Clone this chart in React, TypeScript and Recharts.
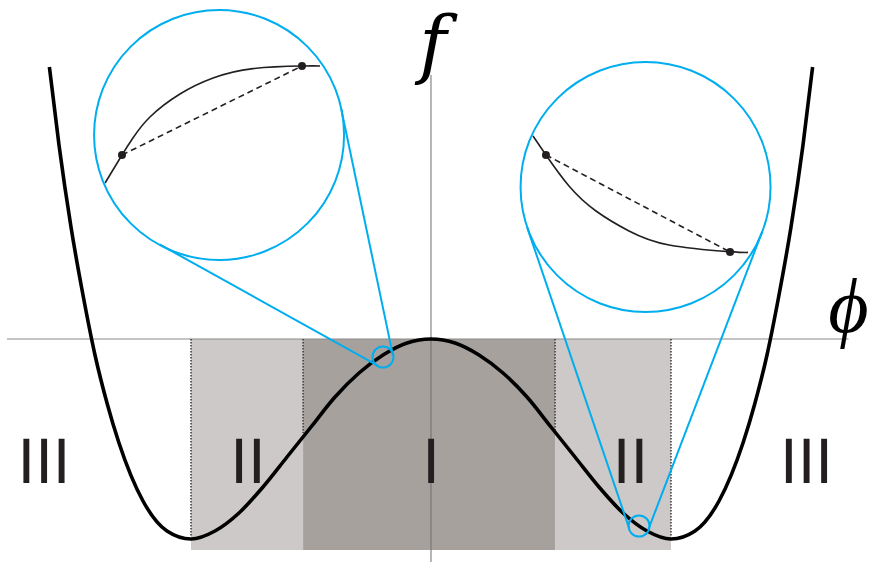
import {
  ComposedChart,
  Line,
  XAxis,
  YAxis,
  ReferenceArea,
  ReferenceLine,
  ReferenceDot,
  Scatter,
} from 'recharts'

// free energy f(phi), double well
const phiValues = [
  -1.59, -1.55, -1.5, -1.45, -1.4, -1.35, -1.3, -1.2, -1.1, -1.0, -0.9, -0.8, -0.7, -0.6, -0.5,
  -0.4, -0.3, -0.2, -0.1, 0, 0.1, 0.2, 0.3, 0.4, 0.5, 0.6, 0.7, 0.8, 0.9, 1.0, 1.1, 1.2, 1.3,
  1.35, 1.4, 1.45, 1.5, 1.55, 1.59,
]
const fValues = [
  1.36, 0.97, 0.56, 0.22, -0.08, -0.32, -0.52, -0.81, -0.96, -1.0, -0.96, -0.87, -0.74, -0.59,
  -0.44, -0.29, -0.17, -0.08, -0.02, 0, -0.02, -0.08, -0.17, -0.29, -0.44, -0.59, -0.74, -0.87,
  -0.96, -1.0, -0.96, -0.81, -0.52, -0.32, -0.08, 0.22, 0.56, 0.97, 1.36,
]

// magnified pieces of the curve shown inside the two big circles
const leftInsetPhi = [-1.358, -1.2875, -1.242, -1.171, -1.046, -0.908, -0.742, -0.5375, -0.4625]
const leftInsetF = [0.78, 0.92, 1.005, 1.11, 1.225, 1.305, 1.352, 1.365, 1.365]
const rightInsetPhi = [0.425, 0.479, 0.575, 0.6875, 0.825, 0.992, 1.242, 1.321]
const rightInsetF = [1.015, 0.92, 0.765, 0.64, 0.54, 0.47, 0.437, 0.433]

// chords between the marked points
const leftChord = [
  { phi: -1.2875, f: 0.92 },
  { phi: -0.5375, f: 1.365 },
]
const rightChord = [
  { phi: 0.479, f: 0.92 },
  { phi: 1.246, f: 0.435 },
]

// regions: binodal at +-1, spinodal at about +-0.53
const binodal = [-1.0, 1.0]
const spinodal = [-0.533, 0.517]
const binodalF = [-0.99, -0.99]
const spinodalF = [-0.47, -0.46]
const regionBottom = -1.055

const regionNames = ['III', 'II', 'I', 'II', 'III']
const regionPhi = [-1.6125, -0.7625, 0, 0.831, 1.5646]
const regionF = -0.72

// zoom circles: small one on the curve, big one showing it magnified
const smallCircles = [
  { phi: -0.2, f: -0.09 },
  { phi: 0.867, f: -0.935 },
]
const bigCircles = [
  { phi: -0.883, f: 1.02 },
  { phi: 0.894, f: 0.76 },
]
const tangentLines = [
  [{ phi: -1.1308, f: 0.473 }, { phi: -0.22, f: -0.134 }],
  [{ phi: -0.3738, f: 1.149 }, { phi: -0.159, f: -0.0795 }],
  [{ phi: 0.4004, f: 0.5595 }, { phi: 0.827, f: -0.951 }],
  [{ phi: 1.38, f: 0.537 }, { phi: 0.9054, f: -0.953 }],
]

const mainCurve = phiValues.map((phi, i) => ({ phi, f: fValues[i] }))
const leftInset = leftInsetPhi.map((phi, i) => ({ phi, f: leftInsetF[i] }))
const rightInset = rightInsetPhi.map((phi, i) => ({ phi, f: rightInsetF[i] }))
const regionLabels = regionNames.map((name, i) => ({ phi: regionPhi[i], f: regionF, name }))

const BLUE = '#00aeef'
const INK = '#231f20'

export default function App() {
  return (
    <div style={{ position: 'absolute', left: 0, top: 0, background: '#fff' }}>
      <ComposedChart width={872} height={562} data={mainCurve} margin={{ top: 0, right: 0, bottom: 0, left: 0 }}>
        <XAxis dataKey="phi" type="number" domain={[-1.7958, 1.8375]} allowDataOverflow hide />
        <YAxis type="number" domain={[-1.115, 1.695]} allowDataOverflow hide />

        <ReferenceArea x1={binodal[0]} x2={spinodal[0]} y1={0} y2={regionBottom} fill="#ccc9c8" fillOpacity={1} stroke="none" />
        <ReferenceArea x1={spinodal[0]} x2={spinodal[1]} y1={0} y2={regionBottom} fill="#a7a19e" fillOpacity={1} stroke="none" />
        <ReferenceArea x1={spinodal[1]} x2={binodal[1]} y1={0} y2={regionBottom} fill="#ccc9c8" fillOpacity={1} stroke="none" />

        <ReferenceLine segment={[{ x: -1.7667, y: 0 }, { x: 1.74, y: 0 }]} stroke="#8a8a8a" strokeWidth={1.2} />
        <ReferenceLine segment={[{ x: 0, y: 1.32 }, { x: 0, y: -1.115 }]} stroke="#6e6e6e" strokeWidth={1} />

        {binodal.map((x, i) => (
          <ReferenceLine key={'b' + i} segment={[{ x, y: 0 }, { x, y: binodalF[i] }]} stroke="#3a3a3a" strokeWidth={1.5} strokeDasharray="1.5 1.5" />
        ))}
        {spinodal.map((x, i) => (
          <ReferenceLine key={'s' + i} segment={[{ x, y: 0 }, { x, y: spinodalF[i] }]} stroke="#3a3a3a" strokeWidth={1.5} strokeDasharray="1.5 1.5" />
        ))}

        <Line dataKey="f" type="monotone" stroke="#000" strokeWidth={3.6} dot={false} activeDot={false} isAnimationActive={false} />

        <Line data={leftInset} dataKey="f" type="natural" stroke={INK} strokeWidth={1.6} dot={false} activeDot={false} isAnimationActive={false} />
        <Line data={rightInset} dataKey="f" type="natural" stroke={INK} strokeWidth={1.6} dot={false} activeDot={false} isAnimationActive={false} />
        <Line data={leftChord} dataKey="f" type="linear" stroke={INK} strokeWidth={1.6} strokeDasharray="6 4" activeDot={false} isAnimationActive={false}
          dot={{ r: 4, fill: INK, stroke: 'none' }} />
        <Line data={rightChord} dataKey="f" type="linear" stroke={INK} strokeWidth={1.6} strokeDasharray="6 4" activeDot={false} isAnimationActive={false}
          dot={{ r: 4, fill: INK, stroke: 'none' }} />

        {tangentLines.map((seg, i) => (
          <ReferenceLine key={'t' + i} segment={[{ x: seg[0].phi, y: seg[0].f }, { x: seg[1].phi, y: seg[1].f }]} stroke={BLUE} strokeWidth={2} />
        ))}
        {bigCircles.map((c, i) => (
          <ReferenceDot key={'c' + i} x={c.phi} y={c.f} r={125} fill="none" stroke={BLUE} strokeWidth={2} />
        ))}
        {smallCircles.map((c, i) => (
          <ReferenceDot key={'d' + i} x={c.phi} y={c.f} r={10.5} fill="none" stroke={BLUE} strokeWidth={2} />
        ))}

        <Scatter
          data={regionLabels}
          dataKey="f"
          isAnimationActive={false}
          shape={(props: any) => (
            <text x={props.cx} y={props.cy} textAnchor="middle" fontFamily="DejaVu Sans" fontSize={60} fill={INK}>
              {props.payload.name}
            </text>
          )}
        />

        <ReferenceDot
          x={0}
          y={1.35}
          r={0}
          shape={(props: any) => (
            <text x={props.cx + 2} y={props.cy} textAnchor="middle" fontFamily="DejaVu Serif" fontStyle="italic" fontSize={74} fill="#000">
              f
            </text>
          )}
        />
        <ReferenceDot
          x={1.655}
          y={0.035}
          r={0}
          shape={(props: any) => (
            <text x={props.cx} y={props.cy} fontFamily="Liberation Serif, DejaVu Serif" fontStyle="italic" fontSize={78} fill="#000">
              ϕ
            </text>
          )}
        />
      </ComposedChart>
    </div>
  )
}
